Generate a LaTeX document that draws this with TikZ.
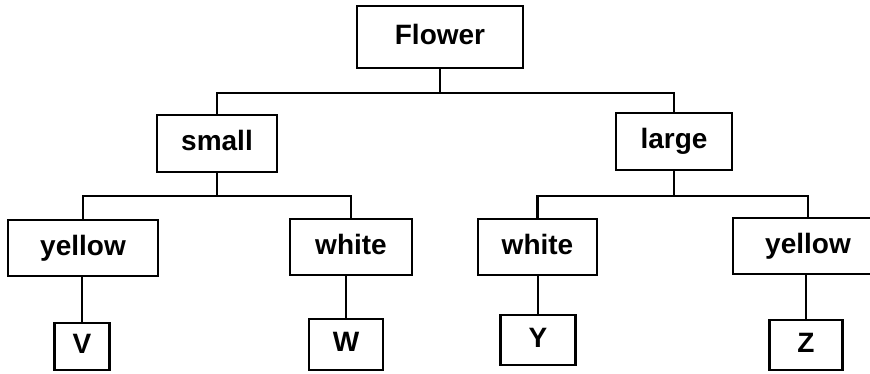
\documentclass[tikz,border=0pt]{standalone}
\usepackage{fontspec}
\setmainfont{Liberation Sans}

\begin{document}
\begin{tikzpicture}[x=1pt,y=1pt,
  box/.style={draw, line width=2.4pt, inner sep=0pt,
    text height=20pt, text depth=5pt,
    font=\bfseries\fontsize{28}{30}\selectfont},
  link/.style={line width=2.4pt}]
  \useasboundingbox (0,0) rectangle (870,374);

  \node[box, minimum width=166pt, minimum height=62pt] (flower) at (440,337) {Flower};

  \node[box, minimum width=120pt, minimum height=57pt] (small) at (217,230.5) {small};
  \node[box, minimum width=116pt, minimum height=57pt] (large) at (674,232.5) {large};

  \node[box, minimum width=150pt, minimum height=56pt] (smallyellow) at (83,126) {yellow};
  \node[box, minimum width=122pt, minimum height=56pt] (smallwhite) at (351,127) {white};
  \node[box, minimum width=119pt, minimum height=56pt] (largewhite) at (537.5,127) {white};
  \node[box, minimum width=150pt, minimum height=56pt] (largeyellow) at (808,128) {yellow};

  \node[box, minimum width=55pt, minimum height=47pt] (V) at (82,27.5) {V};
  \node[box, minimum width=74pt, minimum height=51pt] (W) at (346,29.5) {W};
  \node[box, minimum width=75pt, minimum height=50pt] (Y) at (538,34) {Y};
  \node[box, minimum width=73pt, minimum height=50pt] (Z) at (806,29) {Z};

  % size
  \draw[link] (flower.south) -- ++(0,-24) -| (small.north);
  \draw[link] (flower.south) -- ++(0,-24) -| (large.north);
  % colour
  \draw[link] (small.south) -- ++(0,-23) -| (smallyellow.north);
  \draw[link] (small.south) -- ++(0,-23) -| (smallwhite.north);
  \draw[link] (large.south) -- ++(0,-25) -| (largewhite.north);
  \draw[link] (large.south) -- ++(0,-25) -| (largeyellow.north);
  % leaves
  \draw[link] (V.north) -- (V.north |- smallyellow.south);
  \draw[link] (W.north) -- (W.north |- smallwhite.south);
  \draw[link] (Y.north) -- (Y.north |- largewhite.south);
  \draw[link] (Z.north) -- (Z.north |- largeyellow.south);
\end{tikzpicture}
\end{document}
